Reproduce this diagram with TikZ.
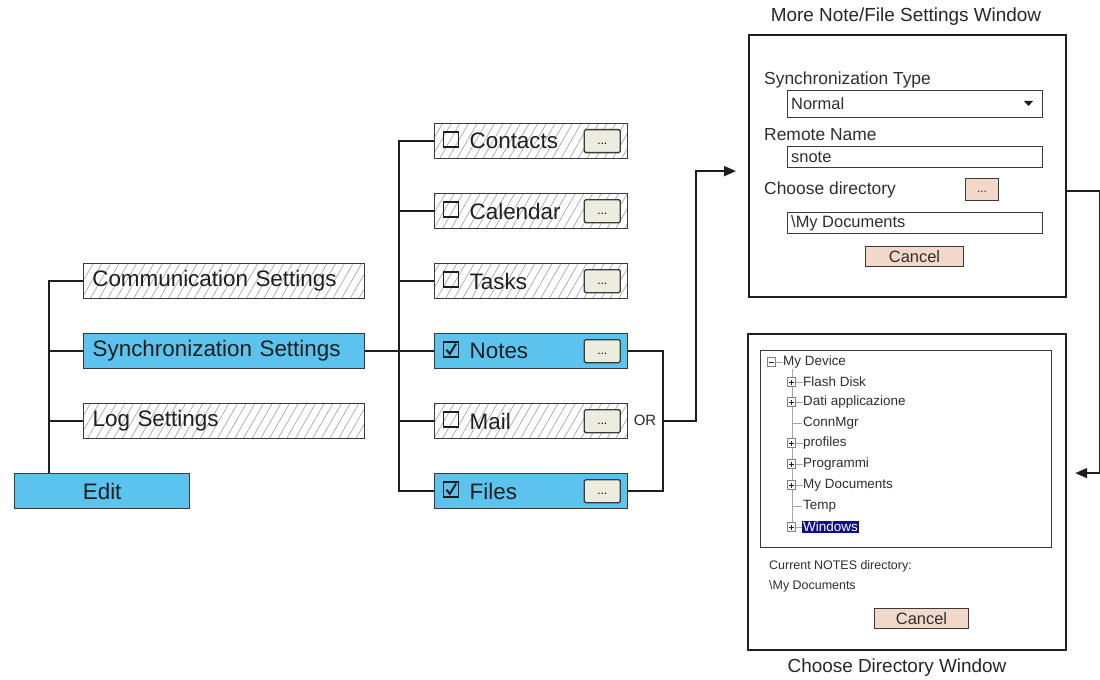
\documentclass[tikz,border=0pt]{standalone}
\usepackage{fontspec}
\setmainfont{Liberation Sans}
\usetikzlibrary{patterns.meta,arrows.meta,calc}
\definecolor{skyb}{HTML}{5CC2EE}
\definecolor{boxline}{HTML}{3A3A3A}
\definecolor{hatchc}{HTML}{A8A8A8}
\definecolor{btnfill}{HTML}{ECEDDF}
\definecolor{peach}{HTML}{F2D8C9}
\definecolor{navyc}{HTML}{0E0E8C}
\definecolor{wtext}{HTML}{2E2E2E}
\definecolor{lnc}{HTML}{1E1E1E}
\newcommand\mybig{\fontsize{22.5}{27}\selectfont}
\newcommand\mywf{\fontsize{17.5}{20}\selectfont}
\newcommand\myff{\fontsize{16.5}{19}\selectfont}
\newcommand\mytf{\fontsize{13.5}{16}\selectfont}
\newcommand\mysf{\fontsize{12.5}{15}\selectfont}
\newcommand\mytitf{\fontsize{19}{22}\selectfont}
\newcommand\mydotf{\fontsize{12}{13}\selectfont}
\newcommand\mitem[4]{%
  \node[#4, anchor=north west, minimum width=193bp, minimum height=35bp, text width=123bp, inner xsep=35bp, inner ysep=0pt, align=left, font=\mybig, text=black!88] (#1) at (434,#2) {#3};
  \node[cbox] (#1c) at ($(#1.west)+(17,-1.5)$) {};
  \node[dotbtn] (#1b) at ($(#1.east)+(-26,0)$) {...};
}
\newcommand\mcheck[1]{\draw[lnc, line width=2bp] ($(#1.center)+(-4.5,0)$) -- ($(#1.center)+(-1.2,4.2)$) -- ($(#1.center)+(5,-6)$);}
\begin{document}
\begin{tikzpicture}[x=1bp,y=-1bp,
  hatchbox/.style={draw=boxline, line width=1.3bp, pattern={Lines[angle=60,distance=7.5bp,line width=0.7bp]}, pattern color=hatchc},
  bluebox/.style={draw=boxline, line width=1.3bp, fill=skyb},
  conn/.style={draw=lnc, line width=1.8bp},
  arr/.style={conn, -{Triangle[length=12bp,width=10bp]}},
  cbox/.style={draw=lnc, line width=1.6bp, minimum size=15bp, inner sep=0pt},
  dotbtn/.style={draw=boxline, fill=btnfill, rounded corners=1.5bp, minimum width=36bp, minimum height=23bp, inner sep=0pt, line width=1.3bp, font=\mydotf, text height=6bp, text depth=0pt},
  win/.style={draw=lnc, line width=2.2bp, anchor=north west, inner sep=0pt},
  field/.style={draw=boxline, line width=1.1bp, anchor=north west, inner sep=0pt, minimum width=255bp},
  pbtn/.style={draw=boxline, fill=peach, line width=1.1bp, inner sep=0pt, anchor=north west, text=wtext},
  wlab/.style={anchor=west, inner sep=0pt, text=wtext, font=\mywf},
  tlab/.style={anchor=west, inner sep=0pt, text=wtext, font=\mytf},
  tbox/.style={draw=gray, line width=0.7bp, minimum size=8.5bp, inner sep=0pt, fill=white},
  treeln/.style={draw=gray!70, line width=0.8bp},
  wtitle/.style={font=\mytitf, text=black!85, inner sep=0pt},
  lbox/.style={anchor=north west, minimum width=281bp, minimum height=35bp, text width=263bp, inner xsep=9bp, inner ysep=0pt, align=left, font=\mybig, text=black!88}
]
\useasboundingbox (0,0) rectangle (1100,680);

% left column
\node[hatchbox, lbox] (comm) at (83,263) {Communication Settings};
\node[bluebox, lbox] (sync) at (83,333) {Synchronization Settings};
\node[hatchbox, lbox] (logs) at (83,403) {Log Settings};
\node[bluebox, anchor=north west, minimum width=175bp, minimum height=35bp, inner sep=0pt, font=\mybig, text=black!88] (edit) at (14,473) {Edit};

% middle column
\mitem{contacts}{123}{Contacts}{hatchbox}
\mitem{calendar}{193}{Calendar}{hatchbox}
\mitem{tasks}{263}{Tasks}{hatchbox}
\mitem{notes}{333}{Notes}{bluebox}
\mitem{mail}{403}{Mail}{hatchbox}
\mitem{files}{473}{Files}{bluebox}
\mcheck{notesc}
\mcheck{filesc}

% connectors left
\draw[conn] (comm.west) -| ([xshift=35bp]edit.north west);
\draw[conn] (sync.west) -- ++(-34,0);
\draw[conn] (logs.west) -- ++(-34,0);
\draw[conn] (sync.east) -- (notes.west);
% connectors middle
\draw[conn] (contacts.west) -| ([xshift=-35bp]files.west) -- (files.west);
\draw[conn] (calendar.west) -- ++(-35,0);
\draw[conn] (tasks.west) -- ++(-35,0);
\draw[conn] (mail.west) -- ++(-35,0);
\draw[conn] (notes.east) -- ++(35,0) |- (files.east);
\coordinate (orj) at ($(mail.east)+(35,0)$);
\node[font=\fontsize{15}{17}\selectfont, text=black!85, inner sep=0pt] (orl) at (645,420) {OR};

% window 1
\node[win, minimum width=317bp, minimum height=262bp] (win1) at (748,34) {};
\node[wtitle] (t1) at (906,17) {More Note/File Settings Window};
\node[wlab] (l1) at (764,80) {Synchronization Type};
\node[field, minimum height=27bp] (f1) at (787,90) {};
\node[wlab, font=\myff] (f1t) at (791,104) {Normal};
\fill[lnc] (1024,101) -- (1033,101) -- (1028.5,106) -- cycle;
\node[wlab] (l2) at (764,135) {Remote Name};
\node[field, minimum height=21bp] (f2) at (787,146) {};
\node[wlab, anchor=base west, font=\myff] (f2t) at (791,163) {snote};
\node[wlab] (l3) at (764,190) {Choose directory};
\node[pbtn, minimum width=33bp, minimum height=22bp, font=\mydotf, text height=5bp, text depth=0pt] (b3) at (965,178) {...};
\node[field, minimum height=21bp] (f3) at (787,212) {};
\node[wlab, font=\myff] (f3t) at (791,223) {\textbackslash My Documents};
\node[pbtn, minimum width=98bp, minimum height=20bp, font=\myff] (c1) at (865,246) {Cancel};

% window 2
\node[win, minimum width=318bp, minimum height=316bp] (win2) at (747,333) {};
\node[wtitle] (t2) at (897,668) {Choose Directory Window};
\node[draw=boxline, line width=1.1bp, anchor=north west, inner sep=0pt, minimum width=291bp, minimum height=197bp] (tree) at (760,350) {};
\draw[treeln] (792,369) -- (792,527);
\node[tbox] (r0) at (771.5,362) {};
\draw[lnc, line width=0.8bp] ($(r0.center)+(-2.5,0)$) -- ($(r0.center)+(2.5,0)$);
\node[tlab] (n0) at (783,362) {My Device};
\draw[treeln] (r0.east) -- (n0.west);
\foreach \yy/\nm/\ex in {382/Flash Disk/1, 402/Dati applicazione/1, 423/ConnMgr/0, 443/profiles/1, 464/Programmi/1, 485/My Documents/1, 506/Temp/0}{
  \node[tlab] (n\yy) at (803,\yy) {\nm};
  \ifnum\ex=1
    \node[tbox] (i\yy) at (791.5,\yy) {};
    \draw[lnc, line width=0.8bp] ($(i\yy.center)+(-2.5,0)$) -- ($(i\yy.center)+(2.5,0)$) ($(i\yy.center)+(0,-2.5)$) -- ($(i\yy.center)+(0,2.5)$);
    \draw[treeln] (i\yy.east) -- (n\yy.west);
  \else
    \draw[treeln] (792,\yy) -- ([xshift=-1bp]n\yy.west);
  \fi
}
\node[tbox] (i527) at (791.5,527) {};
\draw[lnc, line width=0.8bp] ($(i527.center)+(-2.5,0)$) -- ($(i527.center)+(2.5,0)$) ($(i527.center)+(0,-2.5)$) -- ($(i527.center)+(0,2.5)$);
\node[tlab, fill=navyc, text=white, inner xsep=1.5bp, inner ysep=1.5bp] (n527) at (801.5,527) {Windows};
\draw[treeln] (i527.east) -- (n527.west);
\node[tlab, font=\mysf] (cur) at (769,566) {Current NOTES directory:};
\node[tlab, font=\mysf] (cur2) at (769,586) {\textbackslash My Documents};
\node[pbtn, minimum width=94bp, minimum height=20bp, font=\myff] (c2) at (874,608) {Cancel};

% connectors to windows
\draw[arr, shorten >=12bp] (orj) -- ++(33,0) |- ([yshift=-5bp]win1.west);
\draw[arr, shorten >=8bp] ([yshift=-25bp]win1.east) -- ++(33,0) |- ([yshift=19bp]win2.east);
\end{tikzpicture}
\end{document}
